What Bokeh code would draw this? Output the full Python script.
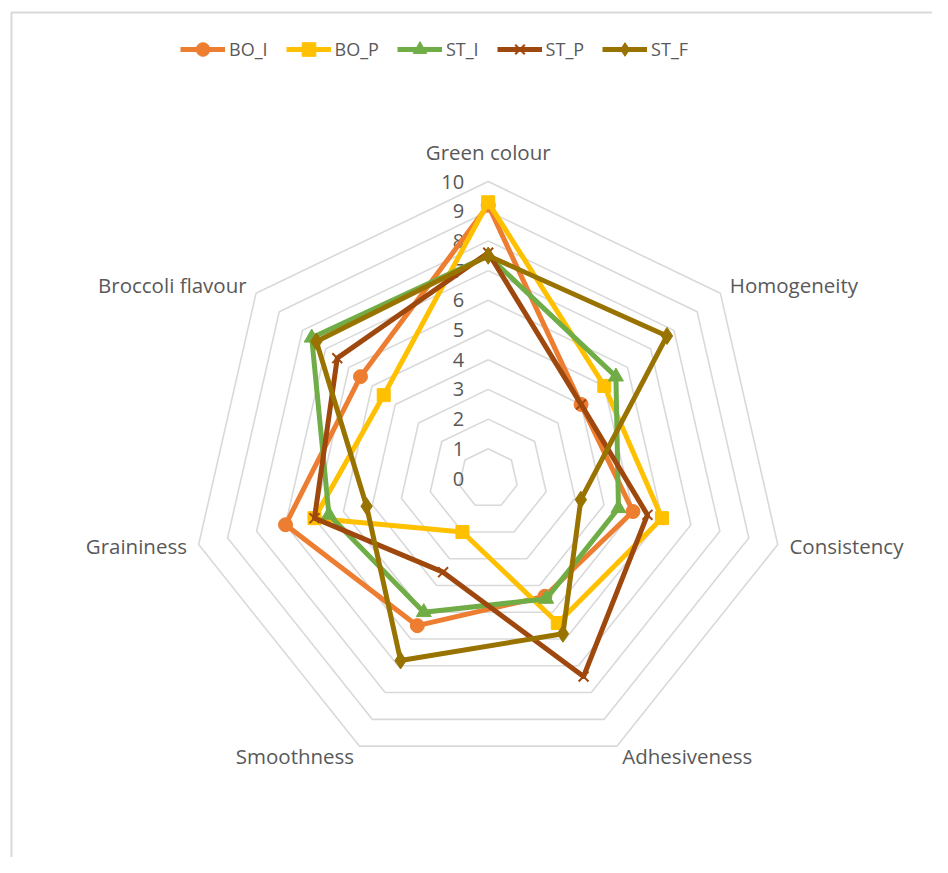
import numpy as np
from bokeh.plotting import figure
from bokeh.models import Range1d, Legend, LegendItem, ColumnDataSource
from bokeh.embed import file_html
from bokeh.resources import INLINE
from bokeh.core.properties import value

# ---------------- data ----------------
categories = ["Green colour", "Homogeneity", "Consistency", "Adhesiveness",
              "Smoothness", "Graininess", "Broccoli flavour"]
series_names = ["BO_I", "BO_P", "ST_I", "ST_P", "ST_F"]
bo_i = [9.2, 4.0, 5.0, 4.4, 5.5, 7.0, 5.5]
bo_p = [9.3, 5.0, 6.0, 5.4, 2.0, 6.0, 4.5]
st_i = [7.5, 5.5, 4.5, 4.5, 5.0, 5.5, 7.6]
st_p = [7.6, 4.0, 5.5, 7.4, 3.5, 6.0, 6.5]
st_f = [7.5, 7.7, 3.2, 5.8, 6.8, 4.2, 7.4]
tick_values = list(range(0, 11))
tick_labels = [str(v) for v in tick_values]

# ---------------- style ----------------
colors = ["#ED7D31", "#FFC000", "#70AD47", "#9E480E", "#997300"]
markers = ["circle", "square", "triangle", "x", "diamond"]
marker_sizes = [14, 13, 15, 14, 17]
FONT = "Open Sans"
TEXT_COLOR = "#595959"
GRID_COLOR = "#D9D9D9"

W, H = 932, 857
CX, CY = 487.7, 478.0   # centre of radar in figure pixels (from top-left)
S = 29.7                # pixels per unit of score

p = figure(width=W, height=H, output_backend="svg", toolbar_location=None,
           x_axis_type=None, y_axis_type=None,
           x_range=Range1d(-CX / S, (W - CX) / S),
           y_range=Range1d(-(H - CY) / S, CY / S),
           min_border=0, outline_line_color=None)
p.grid.visible = False
p.background_fill_color = "white"
p.border_fill_color = "white"

# chart-area border (left and top edges only are inside the window)
xr0, xr1 = p.x_range.start, p.x_range.end
yr0, yr1 = p.y_range.start, p.y_range.end
bx = (11 - CX) / S
by = (CY - 12) / S
p.line([bx, bx, xr1 + 1], [yr0 - 1, by, by], line_color="#D9D9D9", line_width=2)

n = len(categories)
theta = np.pi / 2 - 2 * np.pi * np.arange(n) / n
cos_t, sin_t = np.cos(theta), np.sin(theta)

# rings
ring_xs, ring_ys = [], []
for r in tick_values[1:]:
    ring_xs.append(list(np.append(r * cos_t, r * cos_t[0])))
    ring_ys.append(list(np.append(r * sin_t, r * sin_t[0])))
p.multi_line(ring_xs, ring_ys, line_color=GRID_COLOR, line_width=1.6)

# value labels along the vertical axis
p.text(x=[0] * len(tick_values), y=tick_values, text=tick_labels,
       x_offset=-24, text_align="right", text_baseline="middle",
       text_font=value(FONT), text_font_size="20px", text_color=TEXT_COLOR)

# category labels
vmax = tick_values[-1]
pad = 12
lx, ly, xo, yo, al = [], [], [], [], []
for k in range(n):
    c, s = cos_t[k], sin_t[k]
    lx.append(vmax * c)
    ly.append(vmax * s)
    dx = pad * c
    dy = -pad * s
    if abs(c) < 0.2:
        dy -= 17 * np.sign(s)
    xo.append(dx)
    yo.append(dy - 1)
    al.append("left" if c > 0.2 else ("right" if c < -0.2 else "center"))
src = ColumnDataSource(dict(x=lx, y=ly, t=categories, xo=xo, yo=yo, al=al))
p.text(x="x", y="y", text="t", x_offset="xo", y_offset="yo", text_align="al",
       text_baseline="middle", text_font=value(FONT), text_font_size="20.5px",
       text_color=TEXT_COLOR, source=src)

# series
items = []
for name, vals, col, mk, ms in zip(series_names, [bo_i, bo_p, st_i, st_p, st_f],
                                   colors, markers, marker_sizes):
    v = np.array(vals)
    xs = v * cos_t
    ys = v * sin_t
    lr = p.line(list(np.append(xs, xs[0])), list(np.append(ys, ys[0])),
                line_color=col, line_width=5, line_join="round")
    if mk == "x":
        sr = p.scatter(list(xs), list(ys), marker=mk, size=ms, line_color=col,
                       line_width=2)
    else:
        sr = p.scatter(list(xs), list(ys), marker=mk, size=ms, fill_color=col,
                       line_color=col)
    items.append(LegendItem(label=name, renderers=[lr, sr]))

legend = Legend(items=items, orientation="horizontal", location=(180, 791),
                glyph_width=45, glyph_height=34, label_height=34,
                label_standoff=4, spacing=18, padding=0, margin=0,
                border_line_color=None, background_fill_alpha=0,
                label_text_font=FONT, label_text_font_size="18px",
                label_text_color=TEXT_COLOR)
p.add_layout(legend)

open("out.html", "w").write(file_html(p, INLINE))
